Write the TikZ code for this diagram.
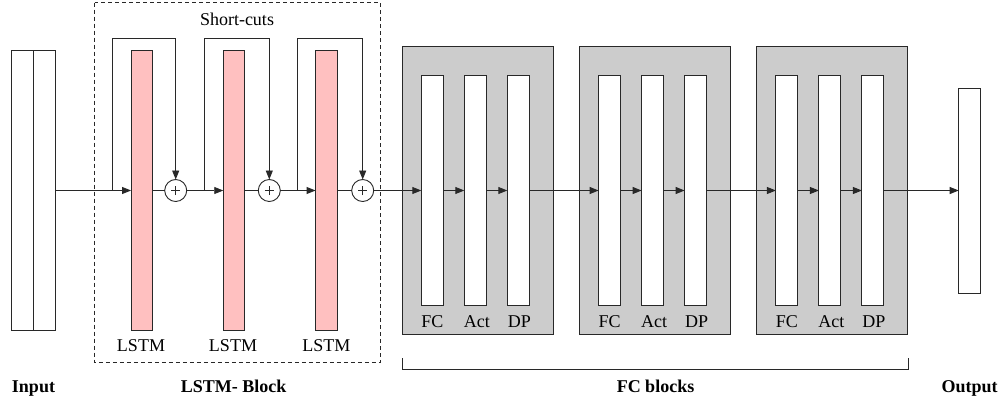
\documentclass[tikz,border=0pt]{standalone}
\usepackage{fontspec}
\setmainfont{Liberation Serif}
\usetikzlibrary{arrows.meta}
\definecolor{lstmpink}{RGB}{255,192,192}
\definecolor{blockgray}{RGB}{204,204,204}
\definecolor{edge}{RGB}{40,40,40}
\begin{document}
\begin{tikzpicture}[x=1pt,y=-1pt,
  every node/.style={inner sep=0pt,outer sep=0pt},
  line/.style={draw=edge,line width=0.9pt},
  arr/.style={line,-{Triangle[length=9pt,width=7pt]}},
  inbox/.style={line,fill=white,minimum width=22pt,minimum height=280.5pt},
  lstmbox/.style={line,fill=lstmpink,minimum width=21.5pt,minimum height=280.5pt},
  graybox/.style={line,fill=blockgray,minimum width=151pt,minimum height=288pt},
  barbox/.style={line,fill=white,minimum width=22pt,minimum height=230pt},
  outbox/.style={line,fill=white,minimum width=22pt,minimum height=205pt},
  sumnode/.style={line,circle,fill=white,minimum size=22pt},
  lbl/.style={font=\fontsize{18}{22}\selectfont,anchor=base},
  blbl/.style={font=\fontsize{18}{22}\selectfont\bfseries,anchor=base}
]
\useasboundingbox (0,0) rectangle (1001,402);
\fill[white] (0,0) rectangle (1001,402);

% dashed LSTM block frame
\draw[edge,line width=0.8pt,dash pattern=on 4pt off 3pt] (94.7,2.7) rectangle (380.3,362.5);
\node[lbl] (sc) at (237,25) {Short-cuts};

% input
\node[inbox] (in1) at (22.7,190.5) {};
\node[inbox,minimum width=21.6pt] (in2) at (44.5,190.5) {};

% LSTM bars
\node[lstmbox] (l1) at (141.8,190.5) {};
\node[lstmbox] (l2) at (234,190.5) {};
\node[lstmbox] (l3) at (326.3,190.5) {};
\node[lbl] (ll1) at (141,351.7) {LSTM};
\node[lbl] (ll2) at (233,351.7) {LSTM};
\node[lbl] (ll3) at (326.3,351.7) {LSTM};

% sum nodes
\foreach \n/\x in {c1/175.7,c2/269.3,c3/362.7}{
  \node[sumnode] (\n) at (\x,190.5) {};
  \draw[edge,line width=0.7pt] ([xshift=-4.5pt]\n.center) -- ([xshift=4.5pt]\n.center);
  \draw[edge,line width=0.7pt] ([yshift=-4.5pt]\n.center) -- ([yshift=4.5pt]\n.center);
}

% shortcut coordinates
\coordinate (b1) at (112.7,190.5);
\coordinate (t1) at (112.7,38.3);
\coordinate (b2) at (204.7,190.5);
\coordinate (t2) at (204.7,38.3);
\coordinate (b3) at (297.7,190.5);
\coordinate (t3) at (297.7,38.3);

% FC blocks
\foreach \i/\gx in {1/402.3,2/579.6,3/756.9}{
  \node[graybox] (g\i) at (\gx+75.5,190) {};
  \node[barbox] (fc\i) at (\gx+30,190.5) {};
  \node[barbox] (ac\i) at (\gx+73,190.5) {};
  \node[barbox] (dp\i) at (\gx+116,190.5) {};
  \node[lbl] (lfc\i) at (\gx+30,327.3) {FC};
  \node[lbl] (lac\i) at (\gx+74.5,327.3) {Act};
  \node[lbl] (ldp\i) at (\gx+117,327.3) {DP};
  \draw[arr] (fc\i.east) -- (ac\i.west);
  \draw[arr] (ac\i.east) -- (dp\i.west);
}

% output
\node[outbox] (out) at (969.7,190.5) {};

% main connectors
\draw[arr] (in2.east) -- (l1.west);
\draw[line] (l1.east) -- (c1.west);
\draw[arr] (c1.east) -- (l2.west);
\draw[line] (l2.east) -- (c2.west);
\draw[arr] (c2.east) -- (l3.west);
\draw[line] (l3.east) -- (c3.west);
\draw[arr] (c3.east) -- (fc1.west);
\draw[arr] (dp1.east) -- (fc2.west);
\draw[arr] (dp2.east) -- (fc3.west);
\draw[arr] (dp3.east) -- (out.west);

% shortcuts
\draw[arr] (b1) -- (t1) -| (c1.north);
\draw[arr] (b2) -- (t2) -| (c2.north);
\draw[arr] (b3) -- (t3) -| (c3.north);

% bracket
\coordinate (k1) at (402.7,358);
\coordinate (k2) at (908.3,358);
\draw[line,line width=0.8pt] (k1) -- ++(0,11) -| (k2);

% bottom labels
\node[blbl] (tin) at (33.5,392) {Input};
\node[blbl] (tlb) at (233.7,392) {LSTM- Block};
\node[blbl] (tfc) at (655.5,392) {FC blocks};
\node[blbl] (tout) at (969.5,392) {Output};
\end{tikzpicture}
\end{document}
